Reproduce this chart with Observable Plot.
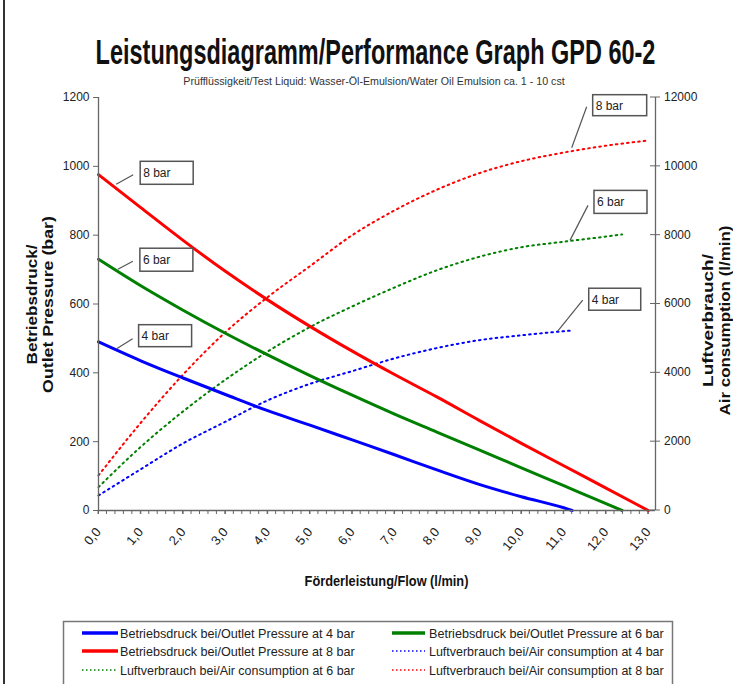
<!DOCTYPE html>
<html><head><meta charset="utf-8">
<script src="https://cdn.jsdelivr.net/npm/d3@7"></script>
<script src="https://cdn.jsdelivr.net/npm/@observablehq/plot@0.6"></script>
<style>
html,body{margin:0;padding:0;background:#fff;}
#wrap{position:relative;width:733px;height:684px;overflow:hidden;background:#fff;}
#wrap svg{display:block;}
#border{position:absolute;left:3px;top:0;width:1.5px;height:684px;background:#333;}
</style></head><body><div id="wrap"><div id="border"></div></div>
<script>
const FONT = "'Liberation Sans', Arial, sans-serif";
const titleText = "Leistungsdiagramm/Performance Graph GPD 60-2";
const subtitleText = "Prüfflüssigkeit/Test Liquid: Wasser-Öl-Emulsion/Water Oil Emulsion ca. 1 - 10 cst";
const xLabel = "Förderleistung/Flow (l/min)";
const yLeftLabel = ["Betriebsdruck/", "Outlet Pressure (bar)"];
const yRightLabel = ["Luftverbrauch/", "Air consumption (l/min)"];
const xTicks = [0,1,2,3,4,5,6,7,8,9,10,11,12,13];
const yLeftTicks = [0,200,400,600,800,1000,1200];
const yRightTicks = [0,2000,4000,6000,8000,10000,12000];

// 4 bar
const flow4 = [0,1,2,3,4,5,6,7,8,9,10,11,11.2];
const pressure4 = [490,435,385,337,290,248,205,162,118,76,40,8,0];
const air4 = [436,1200,1950,2580,3200,3680,4050,4420,4720,4950,5090,5210,5230];
// 6 bar
const flow6 = [0,1,2,3,4,5,6,7,8,9,10,11,12,12.38];
const pressure6 = [730,653,582,515,452,392,335,280,228,176,124,72,20,0];
const air6 = [680,1850,2880,3800,4620,5330,5930,6480,6980,7370,7650,7810,7960,8020];
// 8 bar
const flow8 = [0,1,2,3,4,5,6,7,8,9,10,11,12,13];
const pressure8 = [976,880,785,695,612,535,463,395,330,262,195,130,65,0];
const air8 = [1020,2550,3950,5180,6200,7100,8000,8720,9320,9800,10150,10400,10600,10750];

const barLabels = ["4 bar","6 bar","8 bar"];
const legendNames = [
  "Betriebsdruck bei/Outlet Pressure at 4 bar",
  "Betriebsdruck bei/Outlet Pressure at 6 bar",
  "Betriebsdruck bei/Outlet Pressure at 8 bar",
  "Luftverbrauch bei/Air consumption at 4 bar",
  "Luftverbrauch bei/Air consumption at 6 bar",
  "Luftverbrauch bei/Air consumption at 8 bar"
];
const colors = ["#0000ff","#008000","#ff0000"];

const series = [
  {key:"p4", kind:"pressure", flow:flow4, values:pressure4, color:colors[0], bar:barLabels[0], name:legendNames[0]},
  {key:"p6", kind:"pressure", flow:flow6, values:pressure6, color:colors[1], bar:barLabels[1], name:legendNames[1]},
  {key:"p8", kind:"pressure", flow:flow8, values:pressure8, color:colors[2], bar:barLabels[2], name:legendNames[2]},
  {key:"a4", kind:"air", flow:flow4, values:air4, color:colors[0], bar:barLabels[0], name:legendNames[3]},
  {key:"a6", kind:"air", flow:flow6, values:air6, color:colors[1], bar:barLabels[1], name:legendNames[4]},
  {key:"a8", kind:"air", flow:flow8, values:air8, color:colors[2], bar:barLabels[2], name:legendNames[5]}
];
const byKey = Object.fromEntries(series.map(s => [s.key, s]));
const airFactor = yRightTicks[yRightTicks.length-1] / yLeftTicks[yLeftTicks.length-1];
const toLeft = (s, v) => s.kind === "air" ? v / airFactor : v;

const wrap = document.getElementById("wrap");

// fit a text horizontally to a target width by scaling it
function fitText(sel, cx, cy, target, rotate) {
  const natural = sel.node().getComputedTextLength();
  const k = natural > 0 ? target / natural : 1;
  sel.attr("transform", `translate(${cx},${cy})` + (rotate ? ` rotate(${rotate})` : "") + ` scale(${k},1)`);
}

// ---------- header ----------
const header = d3.create("svg").attr("width",733).attr("height",88);
wrap.appendChild(header.node());
const titleSel = header.append("text").attr("x",0).attr("y",0).attr("text-anchor","middle")
  .attr("font-family",FONT).attr("font-weight","bold").attr("font-size",35).attr("fill","#111").text(titleText);
fitText(titleSel, 375.5, 64, 560);
const subSel = header.append("text").attr("x",0).attr("y",0).attr("text-anchor","middle")
  .attr("font-family",FONT).attr("font-size",11).attr("fill","#333").text(subtitleText);
fitText(subSel, 374, 85, 382);

// ---------- plot ----------
const xMax = 13.17;
const minorTicks = d3.range(0,66).map(i => i/5);
const marks = [];
series.filter(s => s.kind === "air").forEach(s => {
  marks.push(Plot.line(s.flow.map((f,i) => ({f, v: toLeft(s, s.values[i])})),
    {x:"f", y:"v", stroke:s.color, strokeWidth:2, strokeDasharray:"1.6,4", curve:"monotone-x"}));
});
series.filter(s => s.kind === "pressure").forEach(s => {
  marks.push(Plot.line(s.flow.map((f,i) => ({f, v: s.values[i]})),
    {x:"f", y:"v", stroke:s.color, strokeWidth:3, curve:"monotone-x"}));
});
marks.push(
  Plot.ruleX([0], {stroke:"#666", strokeWidth:1.3}),
  Plot.ruleX([xMax], {stroke:"#666", strokeWidth:1.3}),
  Plot.ruleY([0], {stroke:"#666", strokeWidth:1.3})
);

const plot = Plot.plot({
  width:733, height:524,
  marginTop:9, marginBottom:102, marginLeft:98, marginRight:78,
  style:{fontFamily:FONT, fontSize:"12px", background:"transparent", overflow:"visible", color:"#222"},
  x:{domain:[0,xMax], ticks:xTicks, tickFormat: d => d.toFixed(1).replace(".", ","), tickRotate:-50, tickSize:4, tickPadding:15, label:null},
  y:{domain:[0,1200], ticks:yLeftTicks, tickFormat: d => String(d), tickSize:5, tickPadding:4, label:null},
  marks
});
wrap.appendChild(plot);

function toD3(name) {
  const s = plot.scale(name);
  return d3.scaleLinear().domain(s.domain).range(s.range);
}
const xs = toD3("x"), ys = toD3("y");
const svg = d3.select(plot);
svg.selectAll("[aria-label$='axis'] line, [aria-label$='tick'] path, g[aria-label*='axis'] path").attr("stroke","#666");
svg.selectAll("g[aria-label='x-axis'] text, g[aria-label='x-axis tick label'] text").attr("font-size",13);
const g = svg.append("g").attr("text-anchor","start");

// minor x ticks
const y0 = ys(0);
minorTicks.forEach(t => {
  g.append("line").attr("x1",xs(t)).attr("x2",xs(t)).attr("y1",y0).attr("y2",y0+4).attr("stroke","#666").attr("stroke-width",1);
});
// right axis: ticks crossing, labels
const xr = xs(xMax);
yLeftTicks.forEach((t,i) => {
  const y = ys(t);
  g.append("line").attr("x1",xr-5).attr("x2",xr+5).attr("y1",y).attr("y2",y).attr("stroke","#666").attr("stroke-width",1);
  g.append("text").attr("x",xr+9).attr("y",y).attr("dy","0.32em").attr("text-anchor","start")
    .attr("font-family",FONT).attr("font-size",12).attr("fill","#222").text(String(yRightTicks[i]));
});

// axis titles
const yMid = (ys(0) + ys(1200)) / 2;
const xl = g.append("text").attr("text-anchor","middle")
  .attr("font-family",FONT).attr("font-weight","bold").attr("font-size",14).attr("fill","#111").text(xLabel);
fitText(xl, xs(xMax/2)+10, 498, 164);
[[32,120],[48,177]].forEach(([x,len],i) => {
  const t = g.append("text").attr("text-anchor","middle").attr("dy","0.35em")
    .attr("font-family",FONT).attr("font-weight","bold").attr("font-size",14).attr("fill","#111").text(yLeftLabel[i]);
  fitText(t, x, yMid+1, len, -90);
});
[[708,133],[725,190]].forEach(([x,len],i) => {
  const t = g.append("text").attr("text-anchor","middle").attr("dy","0.35em")
    .attr("font-family",FONT).attr("font-weight","bold").attr("font-size",14).attr("fill","#111").text(yRightLabel[i]);
  fitText(t, x, yMid+17, len, -90);
});

// callouts
const callouts = [
  {series:"p8", at:0.43, start:[0,-4], end:[17,-13.5], box:[24,-27], w:53, h:23},
  {series:"p6", at:0.47, start:[0,-2], end:[15,-10], box:[22,-23], w:53, h:23},
  {series:"p4", at:0.44, start:[0,-1], end:[16,-11], box:[22,-25], w:53, h:22},
  {series:"a8", at:11.2, start:[0,-3], end:[15,-44], box:[21,-56], w:54, h:21},
  {series:"a6", at:11.16, start:[0,0], end:[18,-35], box:[24,-50], w:53, h:23},
  {series:"a4", at:10.87, start:[0,0], end:[25,-31], box:[31,-43], w:52, h:22}
];
callouts.forEach(c => {
  const s = byKey[c.series];
  const interp = d3.scaleLinear().domain(s.flow).range(s.values.map(v => toLeft(s, v)));
  const px = xs(c.at), py = ys(interp(c.at));
  g.append("line").attr("x1",px+c.start[0]).attr("y1",py+c.start[1]).attr("x2",px+c.end[0]).attr("y2",py+c.end[1])
    .attr("stroke","#555").attr("stroke-width",1.2);
  g.append("rect").attr("x",px+c.box[0]).attr("y",py+c.box[1]).attr("width",c.w).attr("height",c.h)
    .attr("fill","#fff").attr("stroke","#555").attr("stroke-width",1.5);
  g.append("text").attr("x",px+c.box[0]+3).attr("y",py+c.box[1]+c.h/2+4.5).attr("text-anchor","start")
    .attr("font-family",FONT).attr("font-size",12).attr("fill","#222").text(s.bar);
});

// ---------- legend ----------
const legend = d3.create("svg").attr("width",733).attr("height",72);
wrap.appendChild(legend.node());
legend.append("rect").attr("x",63.5).attr("y",9.5).attr("width",609).attr("height",80)
  .attr("fill","#fff").attr("stroke","#777").attr("stroke-width",1.5);
const legendOrder = ["p4","p6","p8","a4","a6","a8"];
const colX = [[82,118,120],[392,425,429]];
const rowY = [21,39,58];
legendOrder.forEach((k,i) => {
  const s = byKey[k];
  const r = Math.floor(i/2), c = i % 2;
  const ln = legend.append("line").attr("x1",colX[c][0]).attr("x2",colX[c][1]).attr("y1",rowY[r]).attr("y2",rowY[r])
    .attr("stroke",s.color);
  if (s.kind === "pressure") ln.attr("stroke-width",3.5);
  else ln.attr("stroke-width",1.5).attr("stroke-dasharray","1.5,2.5");
  const t = legend.append("text").attr("x",0).attr("y",0).attr("text-anchor","start")
    .attr("font-family",FONT).attr("font-size",13).attr("fill","#222").text(s.name);
  fitText(t, colX[c][2], rowY[r]+4.5, 235);
});
</script>
</body></html>
